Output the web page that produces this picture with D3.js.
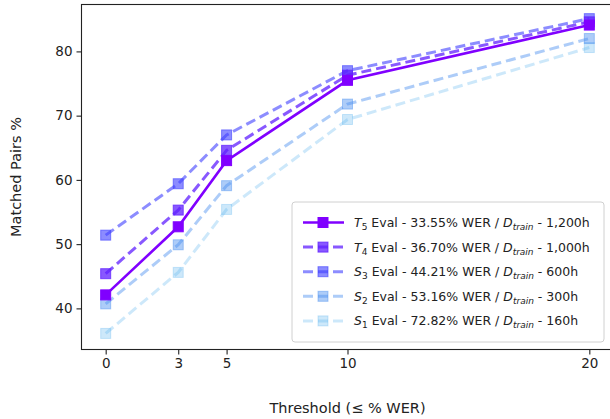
<!DOCTYPE html>
<html>
<head>
<meta charset="utf-8">
<script src="https://cdn.jsdelivr.net/npm/d3@7"></script>
<style>
  body { margin: 0; background: #fff; }
  text { font-family: "DejaVu Sans", sans-serif; fill: #222; }
</style>
</head>
<body>
<div id="chart"></div>
<script>
// thresholds (<= % WER) on the x axis
const thresholds = [0, 3, 5, 10, 20];

// matched pairs % for each eval set
const t5Values = [42.1, 52.7, 63.0, 75.5, 84.1];
const t4Values = [45.4, 55.3, 64.6, 76.3, 84.6];
const s3Values = [51.4, 59.4, 67.0, 77.0, 85.1];
const s2Values = [40.7, 49.9, 59.1, 71.8, 82.0];
const s1Values = [36.1, 45.6, 55.4, 69.4, 80.6];

const seriesNames = ['T5', 'T4', 'S3', 'S2', 'S1'];
const seriesWer = ['33.55', '36.70', '44.21', '53.16', '72.82'];
const seriesHours = ['1,200h', '1,000h', '600h', '300h', '160h'];

const xTicks = [0, 3, 5, 10, 20];
const yTicks = [40, 50, 60, 70, 80];

const styles = [
  { color: '#8000ff', alpha: 1, dash: null },
  { color: '#6020ff', alpha: 0.75, dash: '10,5' },
  { color: '#4040ff', alpha: 0.6, dash: '10,5' },
  { color: '#4a8ef0', alpha: 0.45, dash: '10,5' },
  { color: '#5ab4f0', alpha: 0.3, dash: '10,5' }
];

const series = [t5Values, t4Values, s3Values, s2Values, s1Values].map((vals, i) => ({
  name: seriesNames[i],
  wer: seriesWer[i],
  hours: seriesHours[i],
  style: styles[i],
  points: vals.map((v, j) => ({ x: thresholds[j], y: v }))
}));

const width = 610, height = 419;
const margin = { top: 4.5, left: 81.5, bottom: 69.5, right: -3.5 };
const innerW = width - margin.left - margin.right;
const innerH = height - margin.top - margin.bottom;

const svg = d3.select('#chart').append('svg')
  .attr('width', width)
  .attr('height', height);

const g = svg.append('g')
  .attr('transform', `translate(${margin.left},${margin.top})`);

const x = d3.scaleLinear().domain([-1, 21]).range([0, innerW]);
const y = d3.scaleLinear().domain([33.6, 87.3]).range([innerH, 0]);

// axes
const xAxis = g.append('g')
  .attr('transform', `translate(0,${innerH})`)
  .call(d3.axisBottom(x).tickValues(xTicks).tickSize(5).tickPadding(4));
const yAxis = g.append('g')
  .call(d3.axisLeft(y).tickValues(yTicks).tickSize(5).tickPadding(4));

[xAxis, yAxis].forEach(ax => {
  ax.selectAll('text').style('font-size', '13.5px').attr('fill', '#222');
  ax.selectAll('line').attr('stroke', '#222').attr('stroke-width', 1.1);
  ax.select('.domain').remove();
});

// frame
g.append('rect')
  .attr('width', innerW)
  .attr('height', innerH)
  .attr('fill', 'none')
  .attr('stroke', '#222')
  .attr('stroke-width', 1.1);

// axis titles
svg.append('text')
  .attr('x', margin.left + innerW / 2)
  .attr('y', 413)
  .attr('text-anchor', 'middle')
  .style('font-size', '14.5px')
  .text('Threshold (≤ % WER)');

svg.append('text')
  .attr('transform', `translate(21,${margin.top + innerH / 2}) rotate(-90)`)
  .attr('text-anchor', 'middle')
  .style('font-size', '14.5px')
  .text('Matched Pairs %');

// lines, drawn back to front
const line = d3.line().x(d => x(d.x)).y(d => y(d.y));
const msize = 10;

series.slice().reverse().forEach(s => {
  const lg = g.append('g');
  lg.append('path')
    .datum(s.points)
    .attr('d', line)
    .attr('fill', 'none')
    .attr('stroke', s.style.color)
    .attr('stroke-opacity', s.style.alpha)
    .attr('stroke-width', s.style.dash ? 3 : 2.6)
    .attr('stroke-dasharray', s.style.dash);
  lg.selectAll('rect')
    .data(s.points)
    .join('rect')
    .attr('x', d => x(d.x) - msize / 2)
    .attr('y', d => y(d.y) - msize / 2)
    .attr('width', msize)
    .attr('height', msize)
    .attr('fill', s.style.color)
    .attr('fill-opacity', s.style.alpha)
    .attr('stroke', s.style.color)
    .attr('stroke-opacity', s.style.alpha)
    .attr('stroke-width', 1);
});

// legend
const legend = svg.append('g').attr('transform', 'translate(292,202)');
legend.append('rect')
  .attr('width', 312)
  .attr('height', 140)
  .attr('rx', 3)
  .attr('fill', 'white')
  .attr('fill-opacity', 0.85)
  .attr('stroke', '#d0d0d0');

series.forEach((s, i) => {
  const row = legend.append('g').attr('transform', `translate(0,${20.5 + i * 24.6})`);
  row.append('line')
    .attr('x1', 11).attr('x2', 52)
    .attr('stroke', s.style.color)
    .attr('stroke-opacity', s.style.alpha)
    .attr('stroke-width', s.style.dash ? 3 : 2.6)
    .attr('stroke-dasharray', s.style.dash);
  row.append('rect')
    .attr('x', 31 - msize / 2).attr('y', -msize / 2)
    .attr('width', msize).attr('height', msize)
    .attr('fill', s.style.color)
    .attr('fill-opacity', s.style.alpha)
    .attr('stroke', s.style.color)
    .attr('stroke-opacity', s.style.alpha);

  const t = row.append('text')
    .attr('x', 62)
    .attr('y', 4.5)
    .style('font-size', '12.5px');
  t.append('tspan').style('font-style', 'italic').text(s.name[0]);
  t.append('tspan').attr('dy', 3).style('font-size', '9px').text(s.name.slice(1));
  t.append('tspan').attr('dy', -3).text(` Eval - ${s.wer}% WER / `);
  t.append('tspan').style('font-style', 'italic').text('D');
  t.append('tspan').attr('dy', 3).style('font-size', '9px').style('font-style', 'italic').text('train');
  t.append('tspan').attr('dy', -3).text(` - ${s.hours}`);
});
</script>
</body>
</html>
